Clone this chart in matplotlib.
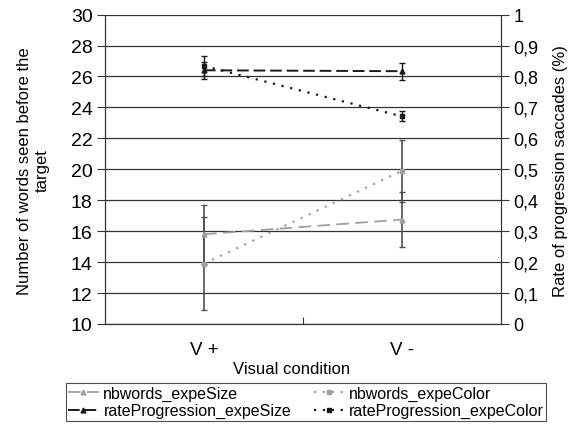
import matplotlib
matplotlib.use('Agg')
import matplotlib.pyplot as plt
from matplotlib.lines import Line2D
import numpy as np

plt.rcParams['font.family'] = ['Liberation Sans', 'DejaVu Sans']

# 数据
conditions = ['V +', 'V -']
nbwords_size = [15.8, 16.75]
nbwords_size_err = [1.9, 1.8]
nbwords_color = [13.9, 19.9]
nbwords_color_err = [3.0, 2.0]
rate_size = [0.82, 0.817]
rate_size_err = [0.027, 0.027]
rate_color = [0.834, 0.671]
rate_color_err = [0.033, 0.016]

left_ticks = np.arange(10, 31, 2)
right_ticks = np.arange(0, 1.01, 0.1)
right_labels = ['0'] + ['0,%d' % i for i in range(1, 10)] + ['1']

fig = plt.figure(figsize=(5.75, 4.27), dpi=100)
ax = fig.add_axes([0.1826, 0.2389, 0.6887, 0.7246])
ax2 = ax.twinx()

x = np.arange(len(conditions))
grey = '#a0a0a0'
dark = '#1a1a1a'

# 线型
style_nb_size = dict(color=grey, ls=(0, (7, 3.5)), lw=1.3, marker='^', ms=3.5)
style_nb_color = dict(color=grey, ls=(0, (1, 3)), lw=1.6, marker='s', ms=3.5)
style_rate_size = dict(color=dark, ls=(0, (6, 2.5)), lw=1.4, marker='^', ms=3.5)
style_rate_color = dict(color=dark, ls=(0, (1, 3)), lw=1.6, marker='s', ms=3.5)

# 左轴: nbwords
ax.errorbar(x, nbwords_size, yerr=nbwords_size_err, ecolor='#505050',
            capsize=2.5, elinewidth=1.2, **style_nb_size)
ax.errorbar(x, nbwords_color, yerr=nbwords_color_err, ecolor='#505050',
            capsize=2.5, elinewidth=1.2, **style_nb_color)
# 右轴: rateProgression
ax2.errorbar(x, rate_size, yerr=rate_size_err, ecolor=dark,
             capsize=2.5, elinewidth=1.0, **style_rate_size)
ax2.errorbar(x, rate_color, yerr=rate_color_err, ecolor=dark,
             capsize=2.5, elinewidth=1.0, **style_rate_color)

ax.set_xlim(-0.5, 1.5)
ax.set_ylim(10, 30)
ax2.set_ylim(0, 1)
ax.set_yticks(left_ticks)
ax.set_yticklabels([str(v) for v in left_ticks], fontsize=14)
ax2.set_yticks(right_ticks)
ax2.set_yticklabels(right_labels, fontsize=13)

for v in left_ticks:
    ax.axhline(v, color='#333333', lw=0.9, zorder=0)

ax.set_xticks([0.5])
ax.set_xticklabels([''])
ax.tick_params(axis='x', direction='in', length=5, color='#333333')
for xi, lab in zip(x, conditions):
    ax.text(xi, -0.055, lab, transform=ax.get_xaxis_transform(), ha='center', va='top', fontsize=13.5)
fig.text(0.507, 0.135, 'Visual condition', ha='center', va='center', fontsize=12)

ax.tick_params(axis='y', length=6, color='#333333', pad=3)
ax2.tick_params(axis='y', length=6, color='#333333', pad=3)
for a in (ax, ax2):
    a.spines['top'].set_visible(False)
    for s in ('left', 'right', 'bottom'):
        a.spines[s].set_color('#333333')

fig.text(0.058, 0.6, 'Number of words seen before the\ntarget', rotation=90,
         ha='center', va='center', fontsize=12, multialignment='center')
fig.text(0.975, 0.6, 'Rate of progression saccades (%)', rotation=90,
         ha='center', va='center', fontsize=12)

handles = [Line2D([], [], **style_nb_size), Line2D([], [], **style_rate_size),
           Line2D([], [], **style_nb_color), Line2D([], [], **style_rate_color)]
leg = fig.legend(handles,
                 ['nbwords_expeSize', 'rateProgression_expeSize',
                  'nbwords_expeColor', 'rateProgression_expeColor'],
                 ncol=2, loc='upper center', bbox_to_anchor=(0.532, 0.1),
                 fontsize=11.5, frameon=True, fancybox=False, handlelength=1.9,
                 handletextpad=0.3, columnspacing=1.4, borderpad=0.15,
                 labelspacing=0.15, borderaxespad=0)
leg.get_frame().set_edgecolor('#222222')
leg.get_frame().set_linewidth(0.8)

fig.savefig('out.png', dpi=100)
